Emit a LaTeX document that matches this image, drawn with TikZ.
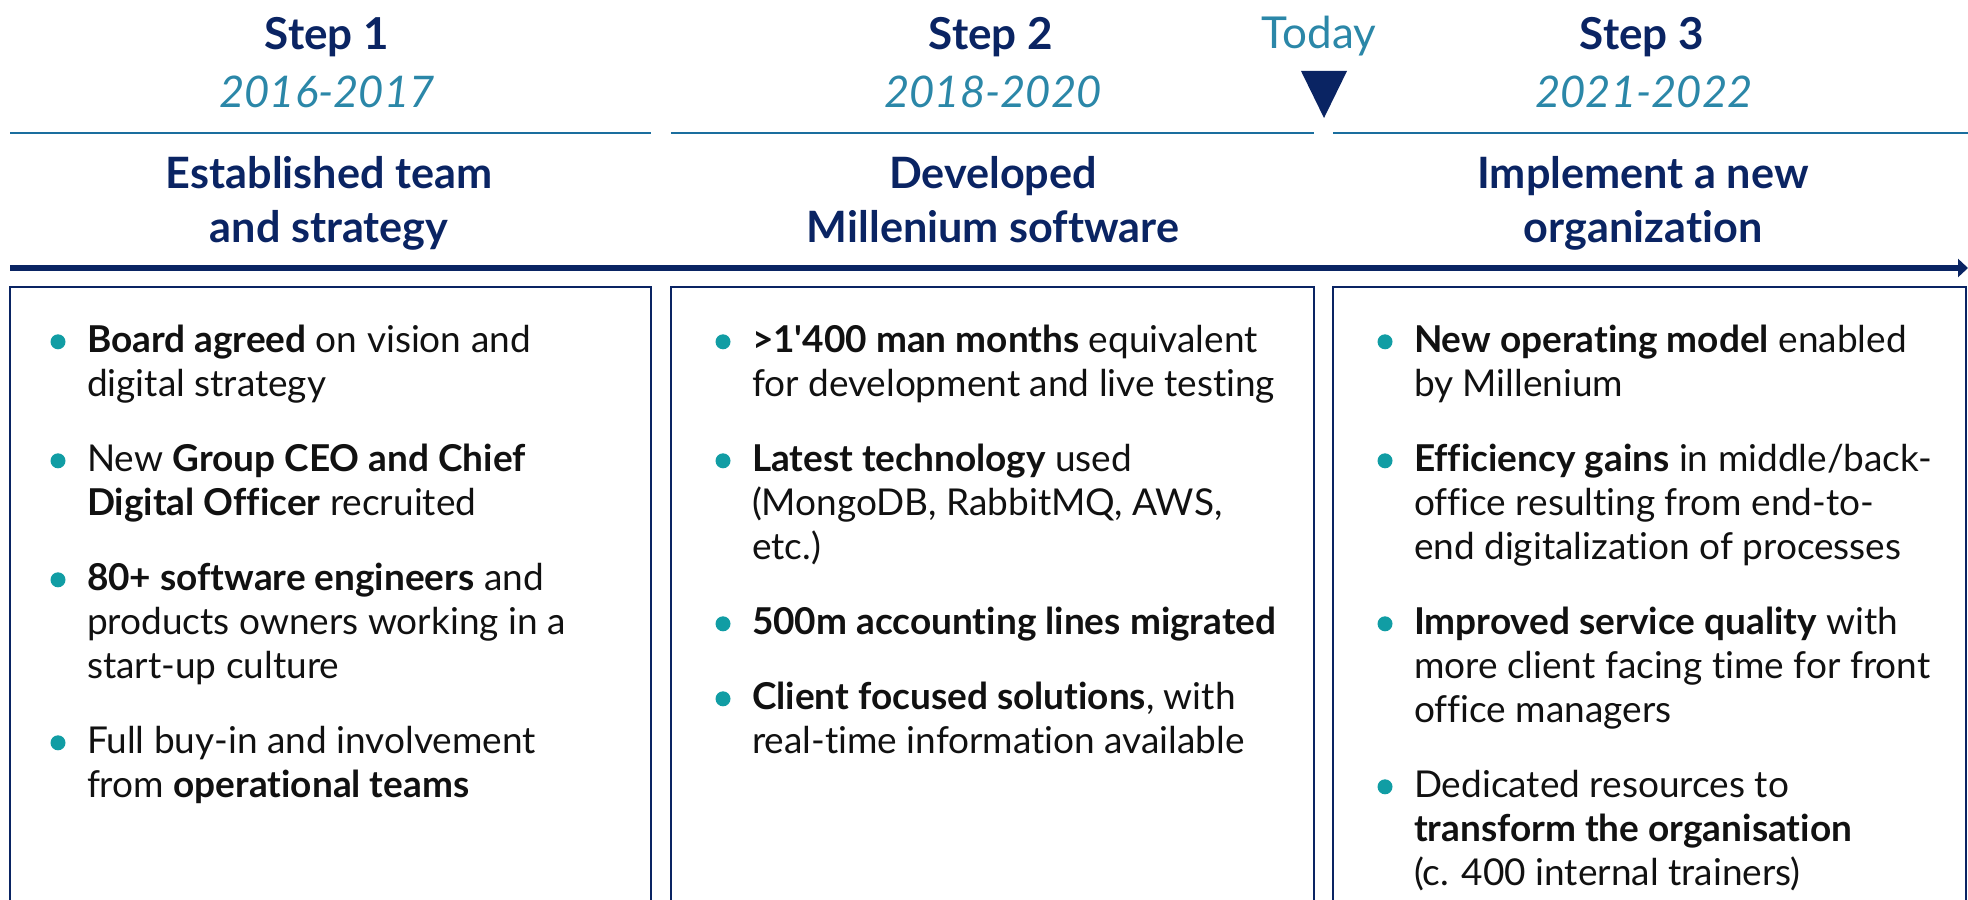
\documentclass[tikz,border=0pt]{standalone}
\usepackage{fontspec}
\setmainfont{Lato}[Ligatures=NoCommon]
\usetikzlibrary{arrows.meta,positioning}
\definecolor{navy}{HTML}{0A2463}
\definecolor{rulecol}{HTML}{1A6E9E}
\definecolor{datecol}{HTML}{2B87A8}
\definecolor{dotcol}{HTML}{119DA4}
\definecolor{ink}{HTML}{111111}
\tikzstyle{steptitle}=[font=\fontsize{22}{26}\selectfont\bfseries,text=navy,anchor=base,inner sep=0pt]
\tikzstyle{years}=[font=\fontsize{21.8}{26}\selectfont\itshape,text=datecol,anchor=base,inner sep=0pt]
\tikzstyle{phase}=[font=\fontsize{21.6}{27}\selectfont\bfseries,text=navy,align=center,anchor=north,inner sep=0pt]
\tikzstyle{bullettext}=[font=\fontsize{18.5}{22}\selectfont,text=ink,align=left,anchor=north west,inner sep=0pt,outer sep=0pt]
\tikzstyle{panel}=[draw=navy,line width=1pt]
\tikzstyle{sectionrule}=[draw=rulecol,line width=1.25pt]
\tikzstyle{timeline}=[draw=navy,line width=3pt,-{Triangle[length=5pt,width=9pt]}]

\begin{document}
\begin{tikzpicture}[x=0.5pt,y=-0.5pt]
  \clip (0,0) rectangle (1968,899);

  % headers
  \node[steptitle] (step1) at (327,50) {Step 1};
  \node[steptitle] (step2) at (991,50) {Step 2};
  \node[steptitle] (step3) at (1642,50) {Step 3};
  \node[years] (years1) at (327,107) {2016-2017};
  \node[years] (years2) at (993,107) {2018-2020};
  \node[years] (years3) at (1644,107) {2021-2022};
  \node[font=\fontsize{22}{26}\selectfont,text=datecol,anchor=base,inner sep=0pt] (today) at (1319,49) {Today};
  \fill[navy] (1301,71) -- (1347,71) -- (1324,118) -- cycle;

  \draw[sectionrule] (10,133) -- (651,133);
  \draw[sectionrule] (671,133) -- (1314,133);
  \draw[sectionrule] (1333,133) -- (1968,133);

  \node[phase] (phase1) at (329,150) {\strut Established team\\and strategy};
  \node[phase] (phase2) at (993,150) {\strut Developed\\Millenium software};
  \node[phase] (phase3) at (1643,150) {\strut Implement a new\\organization};

  % time axis
  \coordinate (tstart) at (10,268);
  \coordinate (tend) at (1968,268);
  \draw[timeline] (tstart) -- (tend);

  % panels
  \draw[panel] (10,905) |- (651,287) -- (651,905);
  \draw[panel] (671,905) |- (1314,287) -- (1314,905);
  \draw[panel] (1333,905) |- (1966,287) -- (1966,905);

  % step 1
  \node[bullettext] (b11) at (87,322) {\strut\textbf{Board agreed} on vision and\\digital strategy\strut};
  \node[bullettext,below=15.5pt of b11.south west,anchor=north west] (b12) {\strut New \textbf{Group CEO and Chief}\\\textbf{Digital Officer} recruited\strut};
  \node[bullettext,below=15.5pt of b12.south west,anchor=north west] (b13) {\strut\textbf{80+ software engineers} and\\products owners working in a\\start-up culture\strut};
  \node[bullettext,below=15.5pt of b13.south west,anchor=north west] (b14) {\strut Full buy-in and involvement\\from \textbf{operational teams}\strut};

  % step 2
  \node[bullettext] (b21) at (752,322) {\strut\textbf{>1\textquotesingle 400 man months} equivalent\\for development and live testing\strut};
  \node[bullettext,below=15.5pt of b21.south west,anchor=north west] (b22) {\strut\textbf{Latest technology} used\\(MongoDB, RabbitMQ, AWS,\\etc.)\strut};
  \node[bullettext,below=15.5pt of b22.south west,anchor=north west] (b23) {\strut\textbf{500m accounting lines migrated}\strut};
  \node[bullettext,below=15.5pt of b23.south west,anchor=north west] (b24) {\strut\textbf{Client focused solutions}, with\\real-time information available\strut};

  % step 3
  \node[bullettext] (b31) at (1414,322) {\strut\textbf{New operating model} enabled\\by Millenium\strut};
  \node[bullettext,below=15.5pt of b31.south west,anchor=north west] (b32) {\strut\textbf{Efficiency gains} in middle/back-\\office resulting from end-to-\\end digitalization of processes\strut};
  \node[bullettext,below=15.5pt of b32.south west,anchor=north west] (b33) {\strut\textbf{Improved service quality} with\\more client facing time for front\\office managers\strut};
  \node[bullettext,below=15.5pt of b33.south west,anchor=north west] (b34) {\strut Dedicated resources to\\\textbf{transform the organisation}\\(c. 400 internal trainers)\strut};

  % bullet dots
  \foreach \b in {b11,b12,b13,b14,b21,b22,b23,b24,b31,b32,b33,b34}
    \fill[dotcol] ([xshift=-14.5pt,yshift=-9.9pt]\b.north west) circle (3.75pt);
\end{tikzpicture}
\end{document}
